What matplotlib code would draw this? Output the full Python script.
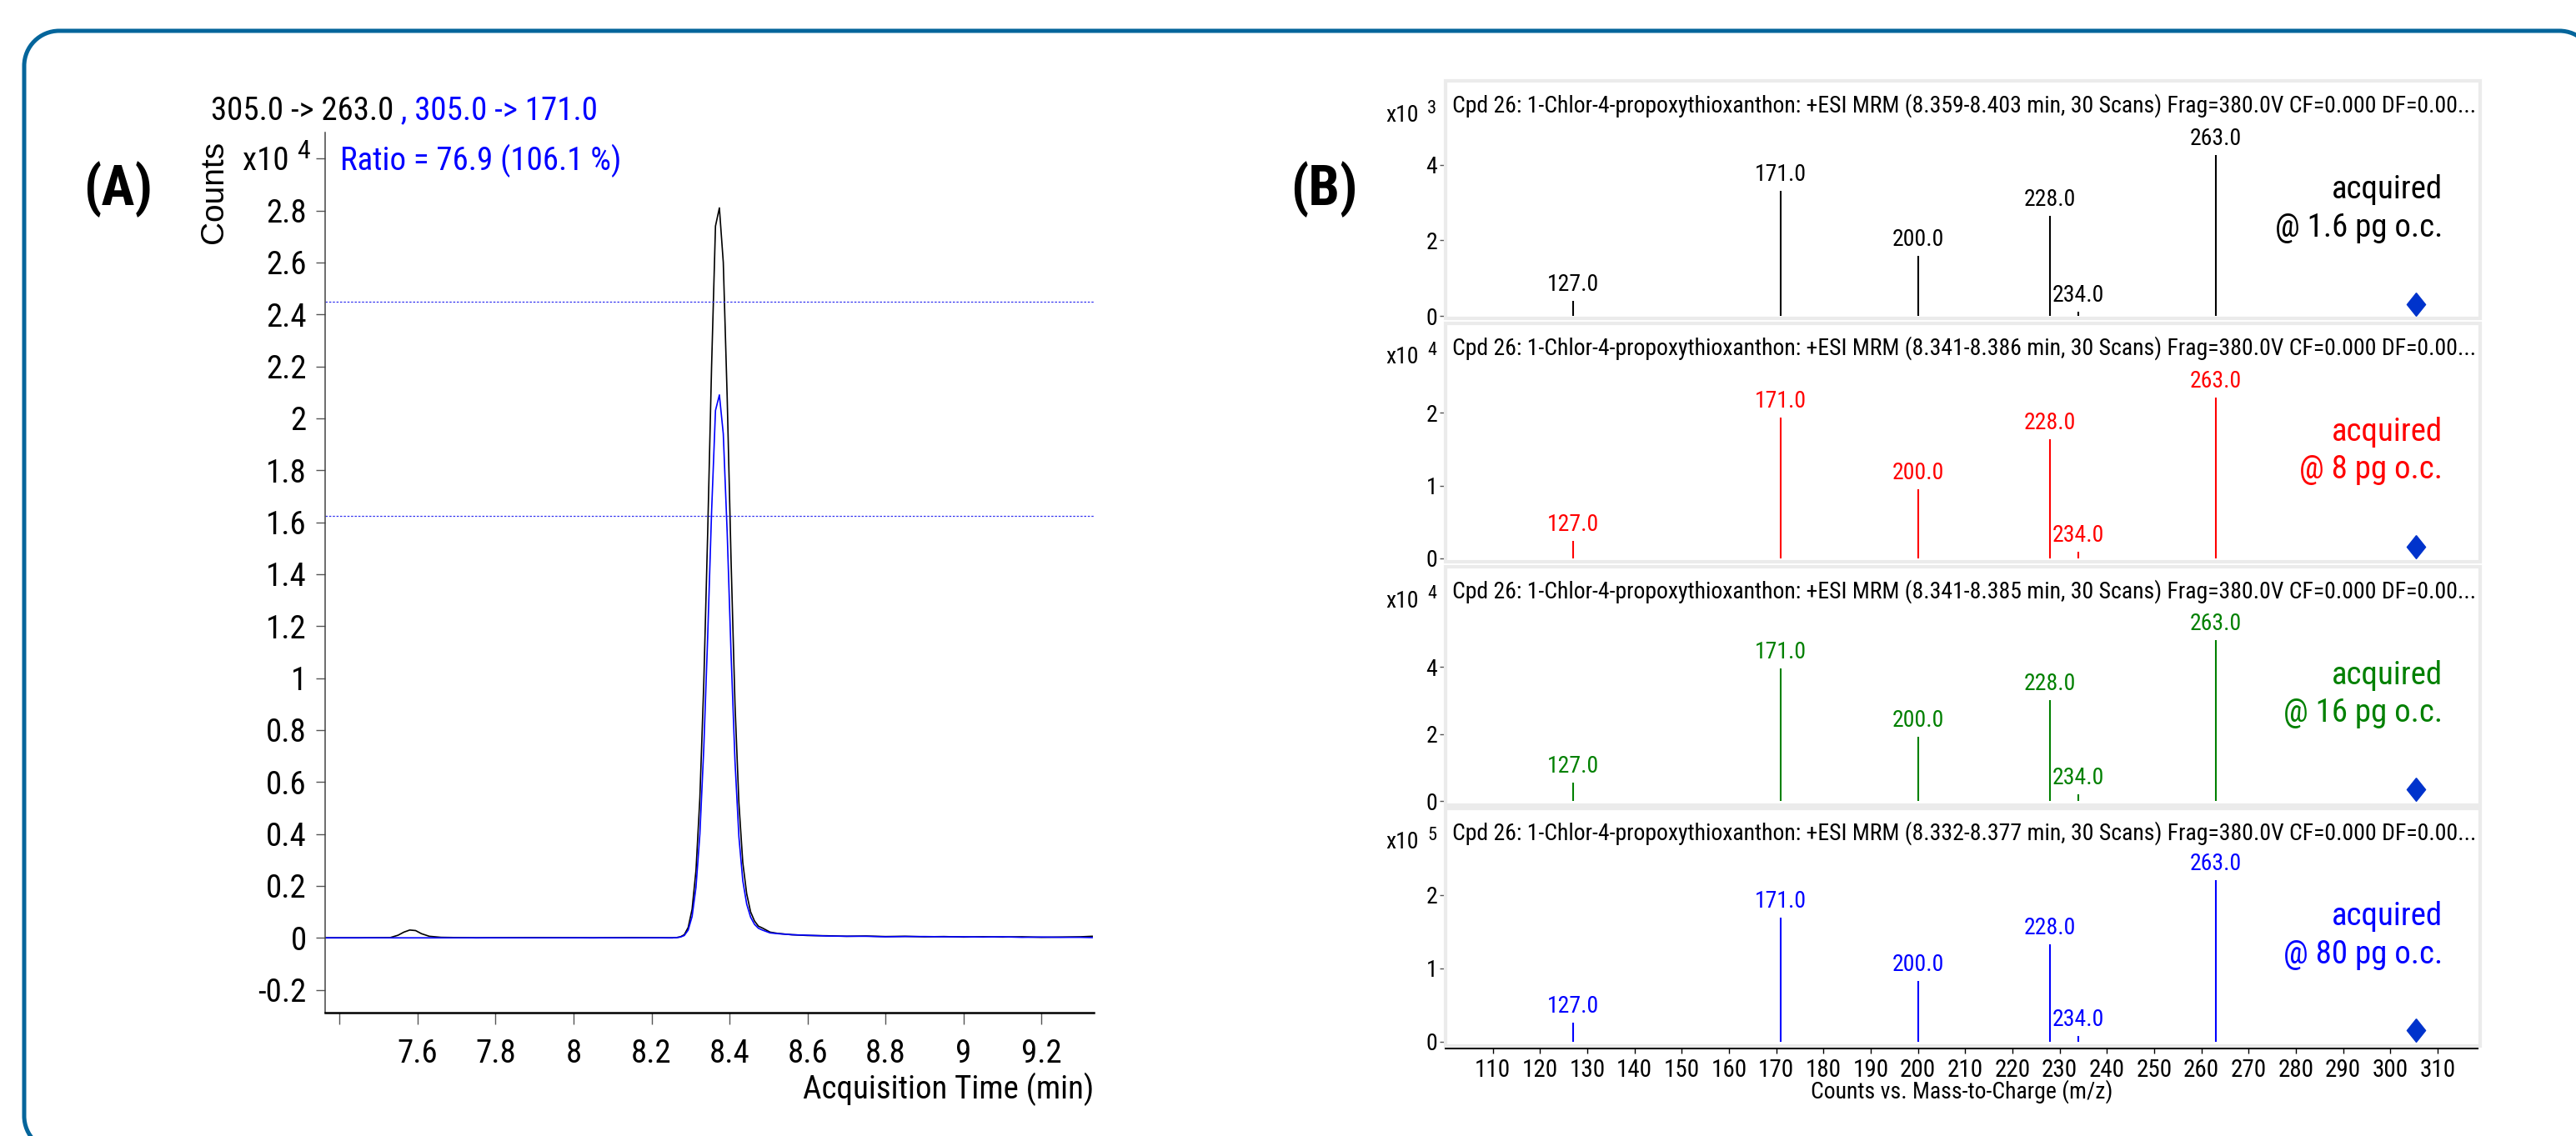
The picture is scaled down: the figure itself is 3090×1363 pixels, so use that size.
import matplotlib
matplotlib.use("Agg")
import matplotlib.pyplot as plt
from matplotlib import font_manager
from matplotlib.patches import Rectangle, PathPatch
from matplotlib.path import Path
from matplotlib.transforms import IdentityTransform, blended_transform_factory

# panel A - extracted ion chromatograms (counts x10^4)
time_min = [7.36, 7.45, 7.53, 7.55, 7.565, 7.58, 7.595, 7.61, 7.63, 7.66, 7.75, 7.9, 8.05, 8.15,
            8.244, 8.254, 8.264, 8.274, 8.284, 8.294, 8.304, 8.314, 8.324, 8.334, 8.344, 8.354,
            8.364, 8.374, 8.384, 8.394, 8.404, 8.414, 8.424, 8.434, 8.444, 8.454, 8.464, 8.474,
            8.484, 8.504, 8.524, 8.56, 8.6, 8.65, 8.7, 8.75, 8.8, 8.85, 8.9, 8.95, 9.0, 9.05,
            9.1, 9.15, 9.2, 9.25, 9.3, 9.33]
counts_263 = [0.0, 0.0, 0.001, 0.010, 0.022, 0.030, 0.028, 0.016, 0.006, 0.002, 0.0, 0.001, 0.0, 0.001,
              0.0, 0.0, 0.001, 0.004, 0.012, 0.040, 0.110, 0.260, 0.540, 0.980, 1.560, 2.200,
              2.740, 2.810, 2.600, 2.080, 1.450, 0.900, 0.520, 0.290, 0.170, 0.100, 0.065, 0.045,
              0.038, 0.022, 0.017, 0.012, 0.009, 0.008, 0.006, 0.007, 0.005, 0.006, 0.004, 0.005,
              0.003, 0.004, 0.003, 0.004, 0.002, 0.003, 0.004, 0.006]
counts_171 = [0.0, 0.0, 0.0, 0.0, 0.0, 0.0, 0.0, 0.0, 0.0, 0.0, 0.0, 0.0, 0.0, 0.0,
              0.0, 0.0, 0.001, 0.003, 0.009, 0.030, 0.082, 0.195, 0.400, 0.730, 1.160, 1.640,
              2.030, 2.090, 1.940, 1.560, 1.090, 0.680, 0.390, 0.220, 0.130, 0.080, 0.052, 0.037,
              0.030, 0.019, 0.016, 0.012, 0.010, 0.007, 0.006, 0.006, 0.004, 0.005, 0.005, 0.004,
              0.004, 0.003, 0.004, 0.002, 0.003, 0.002, 0.002, 0.001]
ratio_limits = [2.45, 1.625]
ytick_vals = [-0.2, 0, 0.2, 0.4, 0.6, 0.8, 1.0, 1.2, 1.4, 1.6, 1.8, 2.0, 2.2, 2.4, 2.6, 2.8, 3.0]
ytick_text = ['-0.2', '0', '0.2', '0.4', '0.6', '0.8', '1', '1.2', '1.4', '1.6', '1.8', '2',
              '2.2', '2.4', '2.6', '2.8', '']
xtick_vals = [7.4, 7.6, 7.8, 8.0, 8.2, 8.4, 8.6, 8.8, 9.0, 9.2]
xtick_text = ['', '7.6', '7.8', '8', '8.2', '8.4', '8.6', '8.8', '9', '9.2']

# panel B - product ion spectra
mz = [127.0, 171.0, 200.0, 228.0, 234.0, 263.0]
spec_1p6 = [0.40, 3.31, 1.60, 2.65, 0.12, 4.27]   # x10^3
spec_8 = [0.24, 1.93, 0.95, 1.63, 0.09, 2.21]     # x10^4
spec_16 = [0.54, 3.97, 1.93, 3.01, 0.20, 4.80]    # x10^4
spec_80 = [0.26, 1.69, 0.83, 1.33, 0.08, 2.20]    # x10^5
spectra = [spec_1p6, spec_8, spec_16, spec_80]
precursor_mz = 305.5
exponents = ['3', '4', '4', '5']
amounts = ['1.6', '8', '16', '80']
scan_ranges = ['8.359-8.403', '8.341-8.386', '8.341-8.385', '8.332-8.377']
y_tops = [4.95, 2.56, 5.58, 2.545]
y_ticks_b = [[0, 2, 4], [0, 1, 2], [0, 2, 4], [0, 1, 2]]
mz_ticks = list(range(110, 320, 10))
colors = ['black', '#FF0000', '#008000', '#0000FF']

# condensed sans close to Arial Narrow, if the machine has one
names = {f.name for f in font_manager.fontManager.ttflist}
prefs = ['Liberation Sans Narrow', 'Arial Narrow', 'Roboto Condensed', 'Pragati Narrow',
         'Archivo Narrow', 'Liberation Sans']
narrow = next(p for p in prefs if p in names or p == 'Liberation Sans')
plt.rcParams['font.family'] = [narrow, 'DejaVu Sans']

W, H = 3090, 1363


def px(x, y):
    return x / W, 1 - y / H


fig = plt.figure(figsize=(W / 100, H / 100), dpi=100)

# outer rounded frame (pixel units, runs off the right and bottom edges)
x0, x1, yt, yb, r = 29, 3112, H - 37, -18, 42
k = 0.5523 * r
verts = [(x0 + r, yb), (x0 + r - k, yb), (x0, yb + r - k), (x0, yb + r),
         (x0, yt - r), (x0, yt - r + k), (x0 + r - k, yt), (x0 + r, yt),
         (x1 - r, yt), (x1 - r + k, yt), (x1, yt - r + k), (x1, yt - r)]
codes = [Path.MOVETO, Path.CURVE4, Path.CURVE4, Path.CURVE4,
         Path.LINETO, Path.CURVE4, Path.CURVE4, Path.CURVE4,
         Path.LINETO, Path.CURVE4, Path.CURVE4, Path.CURVE4]
fig.patches.append(PathPatch(Path(verts, codes), transform=IdentityTransform(),
                             fill=False, ec='#04659B', lw=3.6))

# ---- panel A
axA = fig.add_axes([390 / W, 1 - 1215 / H, 922 / W, 1056 / H])
axA.plot(time_min, counts_263, color='black', lw=1.2)
axA.plot(time_min, counts_171, color='#0000FF', lw=1.2)
for lim in ratio_limits:
    axA.axhline(lim, color='#3030F0', lw=0.9, ls=(0, (2, 1.5)))
axA.set_xlim(7.363, 9.334)
axA.set_ylim(-0.288, 3.10)
axA.set_yticks(ytick_vals, ytick_text)
axA.set_xticks(xtick_vals, xtick_text)
axA.tick_params(axis='y', length=8, width=1, color='#555555', pad=8, labelsize=28)
axA.tick_params(axis='x', length=10, width=1, color='#555555', pad=12, labelsize=28)
for s in ['top', 'right']:
    axA.spines[s].set_visible(False)
axA.spines['left'].set_color('#444444')
axA.spines['left'].set_linewidth(1.1)
axA.spines['bottom'].set_linewidth(1.8)

t1 = fig.text(*px(253, 133), '305.0 -> 263.0', ha='left', va='center', size=28)
axA.annotate(' , 305.0 -> 171.0', xy=(1, 0), xycoords=t1, ha='left', va='bottom',
             size=28, color='#0000FF', annotation_clip=False)
fig.text(*px(408, 193), 'Ratio = 76.9 (106.1 %)', ha='left', va='center', size=28, color='#0000FF')
fig.text(*px(347, 193), 'x10', ha='right', va='center', size=28)
fig.text(*px(356, 181), '4', ha='left', va='center', size=23)
fig.text(*px(257, 230), 'Counts', rotation=90, ha='center', va='center', size=28,
         family=['Liberation Sans', 'DejaVu Sans'])
fig.text(*px(1312, 1307), 'Acquisition Time (min)', ha='right', va='center', size=28)
fig.text(*px(100, 227), '(A)', ha='left', va='center', size=48, weight='bold')
fig.text(*px(1548, 227), '(B)', ha='left', va='center', size=48, weight='bold')

# ---- panel B
box_tops = [97, 388, 680, 970]
box_bottoms = [382, 674, 966, 1255]
zero_lines = [379, 670, 961, 1250]
bx0, bx1 = 1734, 2975
ax_right = 2972
diamond = [(0, 1), (0.8, 0), (0, -1), (-0.8, 0), (0, 1)]

for i in range(4):
    top, bot, zero = box_tops[i], box_bottoms[i], zero_lines[i]
    fig.patches.append(Rectangle((bx0 / W, 1 - bot / H), (bx1 - bx0) / W, (bot - top) / H,
                                 transform=fig.transFigure, fill=False, ec='#EBEBEB', lw=3))
    ax = fig.add_axes([bx0 / W, 1 - zero / H, (ax_right - bx0) / W, 224 / H])
    ax.set_facecolor('none')
    c = colors[i]
    ax.vlines(mz, 0, spectra[i], color=c, lw=1.5)
    for m, v in zip(mz, spectra[i]):
        ax.annotate(f'{m:.1f}', (m, v), xytext=(0, 6), textcoords='offset pixels',
                    ha='center', va='bottom', size=20, color=c)
    tr = blended_transform_factory(ax.transData, ax.transAxes)
    ax.plot([precursor_mz], [0.0625], transform=tr, marker=diamond, ms=20,
            color='#0033CC', ls='none', clip_on=False)
    ax.set_xlim(100, 318.5)
    ax.set_ylim(0, y_tops[i])
    ax.set_yticks(y_ticks_b[i])
    ax.tick_params(axis='y', length=5, width=1, color='#555555', pad=2, labelsize=20)
    for s in ['top', 'right']:
        ax.spines[s].set_visible(False)
    ax.spines['left'].set_linewidth(1.0)
    if i < 3:
        ax.spines['bottom'].set_visible(False)
        ax.set_xticks([])
    else:
        ax.spines['bottom'].set_position(('outward', 6))
        ax.spines['bottom'].set_linewidth(1.5)
        ax.set_xticks(mz_ticks)
        ax.tick_params(axis='x', length=4.5, width=1, pad=4, labelsize=21)

    fig.text(*px(1742, top + 30),
             f'Cpd 26: 1-Chlor-4-propoxythioxanthon: +ESI MRM ({scan_ranges[i]} min, 30 Scans) '
             'Frag=380.0V CF=0.000 DF=0.00...', ha='left', va='center', size=20)
    fig.text(*px(1702, top + 41), 'x10', ha='right', va='center', size=20)
    fig.text(*px(1712, top + 33), exponents[i], ha='left', va='center', size=16)
    fig.text(*px(2930, top + 130), 'acquired', ha='right', va='center', size=28, color=c)
    fig.text(*px(2930, top + 176), f'@ {amounts[i]} pg o.c.', ha='right', va='center',
             size=28, color=c)

fig.text(*px(2353, 1310), 'Counts vs. Mass-to-Charge (m/z)', ha='center', va='center', size=20)

fig.savefig('out.png', dpi=100)
